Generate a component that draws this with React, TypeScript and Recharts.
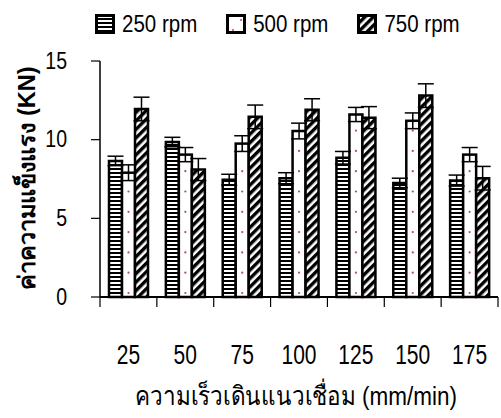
import React from "react"
import { BarChart, Bar, XAxis, YAxis, ErrorBar, Label } from "recharts"

// ความเร็วเดินแนวเชื่อม (mm/min)
const speeds = ["25", "50", "75", "100", "125", "150", "175"]
// ค่าความแข็งแรง (KN) แยกตามความเร็วรอบ
const rpm250 = [8.65, 9.85, 7.45, 7.55, 8.85, 7.25, 7.4]
const rpm500 = [7.9, 9.05, 9.75, 10.55, 11.6, 11.2, 9.05]
const rpm750 = [11.95, 8.1, 11.45, 11.9, 11.4, 12.8, 7.55]
const err250 = [0.3, 0.3, 0.35, 0.35, 0.4, 0.3, 0.35]
const err500 = [0.5, 0.45, 0.5, 0.5, 0.45, 0.5, 0.45]
const err750 = [0.75, 0.7, 0.75, 0.7, 0.7, 0.75, 0.75]
const series = ["250 rpm", "500 rpm", "750 rpm"]
const yTicks = [0, 5, 10, 15]

const data = speeds.map((s, i) => ({
  speed: s,
  r250: rpm250[i],
  r500: rpm500[i],
  r750: rpm750[i],
  e250: err250[i],
  e500: err500[i],
  e750: err750[i],
}))

const FONT = "'Liberation Sans', Arial, 'Noto Sans', sans-serif"
const W = 501
const H = 418
const M = { top: 61, right: 3, left: 0, bottom: 0 }
const Y_W = 100
const BAND = (W - M.left - M.right - Y_W) / speeds.length

const Patterns = () => (
  <svg width={0} height={0} style={{ position: "absolute" }}>
    <defs>
      <pattern id="hstripe" patternUnits="userSpaceOnUse" width={4} height={4}>
        <rect width={4} height={4} fill="#fff" />
        <rect width={4} height={2} fill="#000" />
      </pattern>
      <pattern id="dstripe" patternUnits="userSpaceOnUse" width={6} height={6} patternTransform="rotate(45)">
        <rect width={6} height={6} fill="#fff" />
        <rect width={3.4} height={6} fill="#000" />
      </pattern>
    </defs>
  </svg>
)

// แท่งสีขาวมีจุดสีชมพู
const DottedBar = (props: any) => {
  const { x, y, width, height } = props
  const dots = []
  const cx = x + width / 2
  for (let cy = y + height - 4; cy > y + 6; cy -= 20.3) {
    dots.push(<circle key={cy} cx={cx} cy={cy} r={1.1} fill="#b5467f" />)
  }
  return (
    <g>
      <rect x={x} y={y} width={width} height={height} fill="#fff" stroke="#000" strokeWidth={2.5} />
      {dots}
    </g>
  )
}

const XTick = (props: any) => {
  const { x, y, payload, index } = props
  const left = x - BAND / 2
  return (
    <g>
      <line x1={left} y1={y} x2={left} y2={y + 10} stroke="#000" strokeWidth={1.2} />
      {index === speeds.length - 1 && (
        <line x1={x + BAND / 2} y1={y} x2={x + BAND / 2} y2={y + 10} stroke="#000" strokeWidth={1.2} />
      )}
      <text
        transform={`translate(${x},${y + 67}) scale(1,1.3)`}
        textAnchor="middle"
        fontSize={21}
        fontFamily={FONT}
        fill="#000"
      >
        {payload.value}
      </text>
    </g>
  )
}

const YTick = (props: any) => {
  const { x, y, payload } = props
  return (
    <text
      transform={`translate(${x},${y - 1}) scale(1,1.25)`}
      textAnchor="end"
      dy="0.36em"
      fontSize={19.5}
      fontFamily={FONT}
      fill="#000"
    >
      {payload.value}
    </text>
  )
}

const LegendIcon = ({ i }: { i: number }) => (
  <svg width={20} height={20} style={{ display: "block" }}>
    <rect
      x={1.5}
      y={1.5}
      width={17}
      height={17}
      fill={i === 0 ? "url(#hstripe)" : i === 2 ? "url(#dstripe)" : "#fff"}
      stroke="#000"
      strokeWidth={3}
    />
    {i === 1 && (
      <>
        <circle cx={15} cy={6} r={1} fill="#b5467f" />
        <circle cx={7} cy={16} r={1} fill="#b5467f" />
      </>
    )}
  </svg>
)

const Legend = () => (
  <div
    style={{
      position: "absolute",
      left: 95,
      top: 12,
      display: "flex",
      alignItems: "center",
      fontFamily: FONT,
      fontSize: 20.5,
      color: "#000",
    }}
  >
    {series.map((s, i) => (
      <div key={s} style={{ display: "flex", alignItems: "center", marginRight: 29 }}>
        <LegendIcon i={i} />
        <span style={{ marginLeft: 7, display: "inline-block", transform: "scaleY(1.15)" }}>{s}</span>
      </div>
    ))}
  </div>
)

export default function App() {
  return (
    <div style={{ position: "absolute", left: 0, top: 0, width: W, height: H, background: "#fff" }}>
      <Patterns />
      <Legend />
      <BarChart width={W} height={H} data={data} margin={M} barGap={0} barSize={13}>
        <XAxis
          dataKey="speed"
          height={121}
          tickLine={false}
          tickSize={0}
          tickMargin={0}
          axisLine={{ stroke: "#000", strokeWidth: 2 }}
          tick={<XTick />}
          interval={0}
        >
          <Label
            content={(p: any) => {
              const vb = p.viewBox
              return (
                <text
                  transform={`translate(${vb.x + vb.width / 2 - 3},${vb.y + 108}) scale(1,1.15)`}
                  textAnchor="middle"
                  fontSize={22.5}
                  fontFamily={FONT}
                  fill="#000"
                >
                  ความเร็วเดินแนวเชื่อม (mm/min)
                </text>
              )
            }}
          />
        </XAxis>
        <XAxis xAxisId="top" orientation="top" dataKey="speed" height={0} tick={false} tickLine={false} axisLine={{ stroke: "#9a9a9a", strokeWidth: 2.5 }} />
        <YAxis
          width={Y_W}
          domain={[0, 15]}
          ticks={yTicks}
          interval={0}
          tickSize={9}
          tickMargin={24}
          axisLine={{ stroke: "#000", strokeWidth: 1.5 }}
          tickLine={{ stroke: "#000", strokeWidth: 1.2 }}
          tick={<YTick />}
        >
          <Label
            content={(p: any) => {
              const vb = p.viewBox
              const cy = vb.y + vb.height / 2 - 1
              return (
                <text
                  x={27}
                  y={cy}
                  transform={`rotate(-90, 27, ${cy})`}
                  textAnchor="middle"
                  dominantBaseline="central"
                  fontSize={23.5}
                  fontWeight="bold"
                  fontFamily={FONT}
                  fill="#000"
                >
                  ค่าความแข็งแรง (KN)
                </text>
              )
            }}
          />
        </YAxis>
        <YAxis yAxisId="right" orientation="right" width={0} domain={[0, 15]} tick={false} tickLine={false} axisLine={{ stroke: "#9a9a9a", strokeWidth: 2.5 }} />
        <Bar dataKey="r250" name={series[0]} fill="url(#hstripe)" stroke="#000" strokeWidth={2.5} isAnimationActive={false}>
          <ErrorBar dataKey="e250" width={8} stroke="#000" strokeWidth={1.5} direction="y" />
        </Bar>
        <Bar dataKey="r500" name={series[1]} shape={<DottedBar />} isAnimationActive={false}>
          <ErrorBar dataKey="e500" width={8} stroke="#000" strokeWidth={1.5} direction="y" />
        </Bar>
        <Bar dataKey="r750" name={series[2]} fill="url(#dstripe)" stroke="#000" strokeWidth={2.5} isAnimationActive={false}>
          <ErrorBar dataKey="e750" width={8} stroke="#000" strokeWidth={1.5} direction="y" />
        </Bar>
      </BarChart>
    </div>
  )
}
